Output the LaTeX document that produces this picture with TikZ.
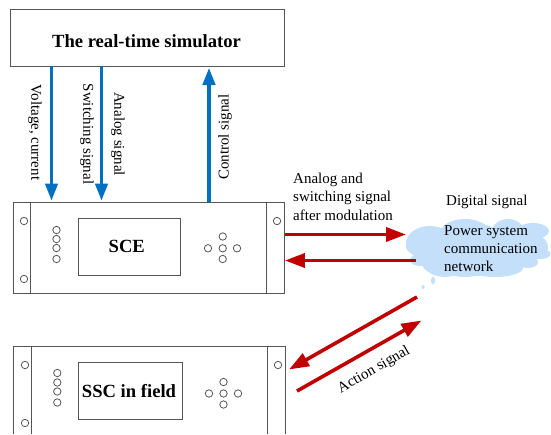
\documentclass[tikz,border=0pt]{standalone}
\usepackage{fontspec}
\setmainfont{Liberation Serif}
\usetikzlibrary{arrows.meta}
\definecolor{bl}{HTML}{0070C0}
\definecolor{rd}{HTML}{C00000}
\definecolor{cl}{HTML}{C3DFFA}
\definecolor{gr}{HTML}{555555}
\tikzset{
 box/.style={draw=gr,line width=0.9pt,fill=white},
 lnk/.style={draw=gr,line width=0.9pt},
 hole/.style={circle,draw=gr,line width=0.8pt,minimum size=7.4pt,inner sep=0pt,fill=white},
 bluearrow/.style={draw=bl,line width=3.2pt,-{Triangle[length=17pt,width=12.5pt]},shorten >=0pt},
 redarrow/.style={draw=rd,line width=3.6pt,-{Triangle[length=20pt,width=14pt]}},
 lab/.style={font=\fontsize{15}{18.2}\selectfont,inner sep=0pt,align=left},
 title/.style={font=\fontsize{18.6}{22}\selectfont\bfseries,inner sep=0pt},
 puff/.style={fill=cl,draw=none},
}
\begin{document}
\begin{tikzpicture}[x=1pt,y=-1pt]
\useasboundingbox (0,0) rectangle (551,434);
% cloud
\foreach \x/\y/\a/\b in {430/243/24/17,416/247/10/7,420/260/10/6,445/257/25/20,478/250/30/26,508/234/17/15,500/250/36/20,533/231/16/8,528/247/20/14,541/254/9.5/5,465/232/24/13,437/266/14/7,495/268/28/9,528/262/10/6,465/268/20/9}
 \path[puff] (\x,\y) ellipse[x radius=\a pt,y radius=\b pt];
\path[puff] (433,280.5) ellipse[x radius=2pt,y radius=4pt];
\path[puff] (423,287) ellipse[x radius=1.5pt,y radius=2pt];
% simulator
\node[box,minimum width=274pt,minimum height=57pt,anchor=north west,inner sep=0pt] (sim) at (9.5,9.3) {};
\node[title] (simt) at (146.5,41.5) {The real-time simulator};
% SCE
\node[box,minimum width=271.5pt,minimum height=91pt,anchor=north west,inner sep=0pt] (sce) at (12.5,202.3) {};
\draw[lnk] (30.5,202.3) -- (30.5,293.3);
\draw[lnk] (266,202.3) -- (266,293.3);
\node[box,minimum width=102pt,minimum height=57pt,anchor=north west,inner sep=0pt] (scei) at (77.6,217.8) {};
\node[title] (scet) at (126.8,246.5) {SCE};
\foreach \n/\x/\y in {a/24/221,b/24/279,c/277/221,d/56.5/230,e/56.5/239,f/56.5/248,g/56.5/259,h/222.7/236.5,i/222.7/248.3,j/222.7/259,k/208/248.3,l/237/248.3}
 \node[hole] (sce\n) at (\x,\y) {};
% SSC
\draw[lnk] (13.7,434) -- (13.7,346.3) -- (285.5,346.3) -- (285.5,434);
\draw[lnk] (31.8,346.3) -- (31.8,434);
\draw[lnk] (267.3,346.3) -- (267.3,434);
\node[box,minimum width=104.5pt,minimum height=57pt,anchor=north west,inner sep=0pt] (ssci) at (77.6,361.8) {};
\node[title] (ssct) at (129,391.5) {SSC in field};
\foreach \n/\x/\y in {a/25/365,b/25/423,c/278/365,d/57.3/373,e/57.3/382.5,f/57.3/391.5,g/57.3/402.5,h/223.5/382,i/223.5/393.5,j/223.5/404.5,k/209/393.5,l/238/393.5}
 \node[hole] (ssc\n) at (\x,\y) {};
\node[lab,anchor=north west] (cloudt) at (444,225) {Power system\\communication\\network};
\node[lab,anchor=west] (dig) at (446,202) {Digital signal};
\node[lab,anchor=north west] (ana) at (293,173) {Analog and\\switching signal\\after modulation};
% blue arrows
\draw[bluearrow] (51.5,66.3) -- (51.5,200.5);
\draw[bluearrow] (101.5,66.3) -- (101.5,200.5);
\draw[bluearrow] (209,202.3) -- (209,68);
\node[lab,rotate=-90] (v) at (35,132.5) {Voltage, current};
\node[lab,rotate=-90] (s) at (87,134) {Switching signal};
\node[lab,rotate=-90] (an) at (118,134) {Analog signal};
\node[lab,rotate=90] (c) at (225,137) {Control signal};
% red arrows
\coordinate (r1) at (406,234.5);
\coordinate (r2) at (416,260.5);
\coordinate (r3) at (417,297);
\coordinate (r4) at (289,369.5);
\coordinate (r5) at (297,391);
\coordinate (r6) at (421.5,320.5);
\draw[redarrow] (sce.east |- r1) -- (r1);
\draw[redarrow] (r2) -- (sce.east |- r2);
\draw[redarrow] (r3) -- (r4);
\draw[redarrow] (r5) -- (r6);
\node[lab,rotate=30] (act) at (374,370) {Action signal};
\end{tikzpicture}
\end{document}
